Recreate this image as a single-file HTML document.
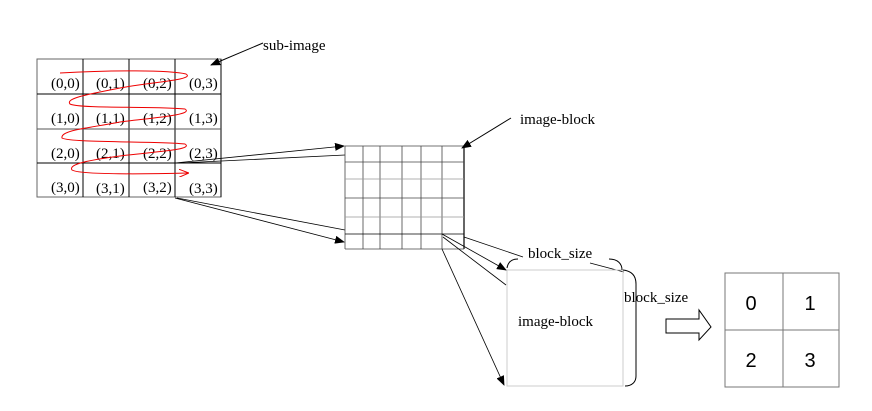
<!DOCTYPE html>
<html><head><meta charset="utf-8"><style>
body{margin:0;background:#fff}
svg{display:block}
svg text{font-family:"Liberation Serif",serif;fill:#000}
svg text.sans{font-family:"Liberation Sans",sans-serif}
</style></head><body>
<svg width="872" height="411" viewBox="0 0 872 411" font-family="Liberation Serif, serif">
<defs>
<marker id="ah" markerWidth="10" markerHeight="8" refX="9" refY="4" orient="auto" markerUnits="userSpaceOnUse">
<path d="M0,0 L10,4 L0,8 z" fill="#000"/></marker>
<marker id="ar" markerWidth="10" markerHeight="8" refX="9" refY="4" orient="auto" markerUnits="userSpaceOnUse">
<path d="M0,0 L10,4 L0,8" fill="none" stroke="#e00" stroke-width="1"/></marker>
</defs>

<g stroke="#000" stroke-width="1" fill="none">
<rect x="37" y="59" width="184" height="138" stroke="#666"/>
<line x1="83" y1="59" x2="83" y2="197"/><line x1="129" y1="59" x2="129" y2="197"/><line x1="175" y1="59" x2="175" y2="197"/>
<line x1="221" y1="59" x2="221" y2="197"/>
<line x1="37" y1="94" x2="221" y2="94"/><line x1="37" y1="129" x2="221" y2="129" stroke="#555"/><line x1="37" y1="163" x2="221" y2="163"/>
</g>
<g font-size="15" font-family="Liberation Serif, serif">
<text x="51" y="88">(0,0)</text><text x="96" y="88">(0,1)</text><text x="143" y="88">(0,2)</text><text x="189" y="88">(0,3)</text>
<text x="51" y="123">(1,0)</text><text x="96" y="123">(1,1)</text><text x="143" y="123">(1,2)</text><text x="189" y="123">(1,3)</text>
<text x="51" y="158">(2,0)</text><text x="96" y="158">(2,1)</text><text x="143" y="158">(2,2)</text><text x="189" y="158">(2,3)</text>
<text x="51" y="192">(3,0)</text><text x="96" y="193">(3,1)</text><text x="143" y="192">(3,2)</text><text x="189" y="193">(3,3)</text>
</g>
<path fill="none" stroke="#e00" stroke-width="1" marker-end="url(#ar)"
d="M60,73 C110,70 170,70 186,74 C196,80 150,82 120,88 C90,94 65,98 70,104 C80,109 160,106 185,109 C195,115 150,118 120,122 C90,128 60,130 62,138 C70,143 160,141 185,144 C195,150 150,152 120,156 C90,160 68,164 72,170 C80,175 150,174 188,173"/>

<g>
<line x1="263" y1="43" x2="211" y2="65" stroke="#000" marker-end="url(#ah)"/>
<text x="263" y="50" font-size="15" font-family="Liberation Serif, serif">sub-image</text>
</g>

<g stroke="#000" stroke-width="0.8" fill="none">
<line x1="175" y1="163" x2="344" y2="146" marker-end="url(#ah)"/>
<line x1="180" y1="163" x2="345" y2="155"/>
<line x1="175" y1="198" x2="344" y2="242" marker-end="url(#ah)"/>
<line x1="177" y1="198" x2="345" y2="230"/>
</g>

<g stroke="#444" stroke-width="0.8" fill="none">
<line x1="345" y1="146" x2="345" y2="249"/><line x1="363" y1="146" x2="363" y2="249"/><line x1="380" y1="146" x2="380" y2="249"/>
<line x1="402" y1="146" x2="402" y2="249"/><line x1="421" y1="146" x2="421" y2="249"/><line x1="442" y1="146" x2="442" y2="249"/>
<line x1="464" y1="146" x2="464" y2="249" stroke="#000" stroke-width="1.2"/>
<line x1="345" y1="146" x2="464" y2="146"/><line x1="345" y1="162" x2="464" y2="162"/><line x1="345" y1="179" x2="464" y2="179" stroke="#999"/>
<line x1="345" y1="198" x2="464" y2="198"/><line x1="345" y1="217" x2="464" y2="217" stroke="#999"/><line x1="345" y1="234" x2="464" y2="234" stroke="#000"/>
<line x1="345" y1="249" x2="464" y2="249"/>
</g>
<g>
<line x1="511" y1="118" x2="462" y2="148" stroke="#000" marker-end="url(#ah)"/>
<text x="520" y="124" font-size="15" font-family="Liberation Serif, serif">image-block</text>
</g>

<g stroke="#000" stroke-width="0.8" fill="none">
<line x1="442" y1="234" x2="506" y2="270" marker-end="url(#ah)"/>
<line x1="443" y1="237" x2="506" y2="285"/>
<line x1="442" y1="249" x2="504" y2="385" marker-end="url(#ah)"/>
<line x1="464" y1="237" x2="523" y2="257"/>
<line x1="590" y1="263" x2="624" y2="272"/>
</g>

<rect x="507" y="270" width="116" height="116" fill="none" stroke="#ccc"/>
<text x="518" y="326" font-size="15" font-family="Liberation Serif, serif">image-block</text>
<g stroke="#000" fill="none" stroke-width="1">
<path d="M507,268 C508,262 512,259 518,259"/>
<path d="M609,259 C618,259 622,264 622,270"/>
<path d="M623,270 C632,271 636,276 636,284 L636,376 C636,382 632,386 625,386"/>
</g>
<text x="528" y="258" font-size="15" font-family="Liberation Serif, serif">block_size</text>
<text x="624" y="302" font-size="15" font-family="Liberation Serif, serif">block_size</text>

<path d="M666,319 L699,319 L699,310 L711,327 L699,340 L699,333 L666,333 z" fill="#fff" stroke="#000"/>

<g>
<rect x="725" y="273" width="114" height="114" fill="none" stroke="#777"/>
<line x1="783" y1="273" x2="783" y2="387" stroke="#777"/>
<line x1="725" y1="330" x2="839" y2="330" stroke="#777"/>
<g font-size="20" text-anchor="middle">
<text class="sans" font-family="Liberation Sans, sans-serif" x="751" y="310">0</text>
<text class="sans" font-family="Liberation Sans, sans-serif" x="810" y="310">1</text>
<text class="sans" font-family="Liberation Sans, sans-serif" x="751" y="367">2</text>
<text class="sans" font-family="Liberation Sans, sans-serif" x="810" y="367">3</text>
</g>
</g>
</svg>
</body></html>
